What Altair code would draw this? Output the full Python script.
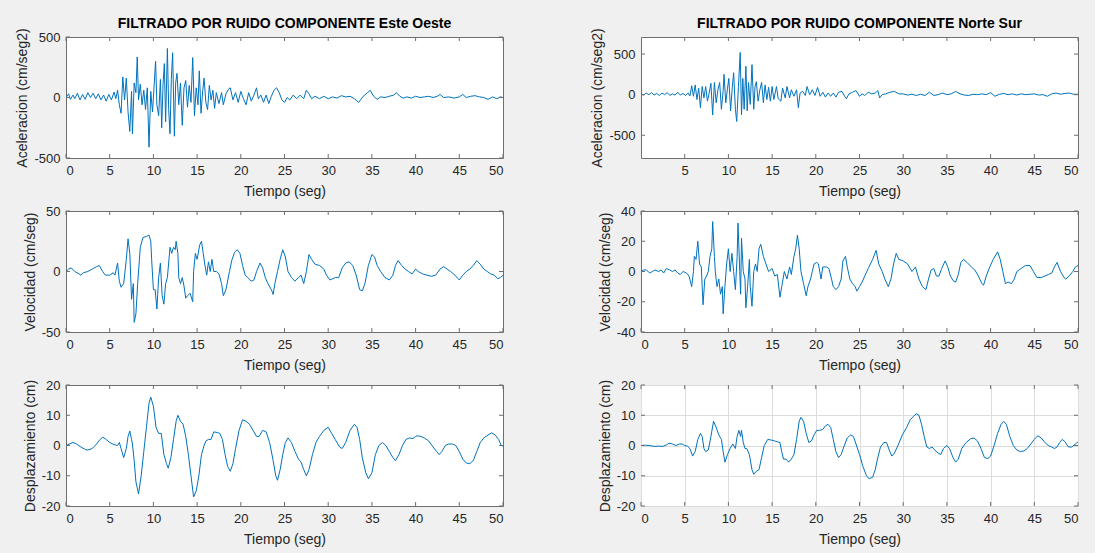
import altair as alt
import pandas as pd

# ---------------- data ----------------
T_ACC_EW = [0.0,0.3,0.5,0.8,1.0,1.3,1.6,1.9,2.2,2.5,2.8,3.1,3.4,3.7,4.0,4.3,4.6,4.9,5.2,5.5,5.7,5.9,6.1,6.3,6.5,6.7,6.9,7.1,7.3,7.5,7.6,7.8,8.0,8.15,8.3,8.5,8.7,8.9,9.1,9.3,9.5,9.7,9.9,10.1,10.25,10.4,10.6,10.8,10.95,11.1,11.25,11.4,11.6,11.75,11.9,12.05,12.2,12.4,12.55,12.7,12.9,13.1,13.3,13.5,13.7,13.9,14.1,14.3,14.5,14.7,14.9,15.1,15.25,15.45,15.65,15.8,16.0,16.2,16.4,16.6,16.8,17.0,17.2,17.5,17.8,18.0,18.3,18.6,18.8,19.1,19.4,19.7,20.0,20.3,20.6,20.9,21.2,21.5,21.8,22.0,22.3,22.6,22.9,23.2,23.5,23.8,24.1,24.4,24.7,25.0,25.3,25.6,26.0,26.4,26.8,27.2,27.5,27.8,28.1,28.5,29.0,29.5,30.0,30.5,31.0,31.5,32.0,32.5,33.0,33.5,34.0,34.5,34.8,35.2,35.6,36.0,36.5,37.0,37.5,37.8,38.2,38.6,39.0,39.5,40.0,40.5,41.0,41.5,42.0,42.5,42.8,43.2,43.8,44.4,45.0,45.4,45.8,46.3,46.8,47.3,47.8,48.3,48.8,49.3,49.7,50.0]
A_EW = [0,30,-15,20,-10,35,-20,25,-15,40,0,35,-10,30,-20,20,-30,25,-20,45,-10,60,-60,-130,170,-20,160,-120,-280,50,-300,120,40,335,-20,110,-60,60,-100,80,-410,50,-120,120,300,-60,-150,150,-250,100,280,-200,405,-100,-300,150,370,-320,120,200,-60,120,-230,80,140,-80,100,-40,330,-150,80,-60,220,-130,60,160,-40,-100,100,-20,60,-90,40,-50,40,-60,30,70,80,-20,40,-40,50,-10,-60,40,-30,20,80,-10,20,-40,20,-50,10,60,80,40,-20,-40,0,-20,20,-10,20,-10,60,30,-10,10,-10,10,-10,5,-5,15,5,10,-10,-40,10,40,60,10,-15,5,0,10,20,40,10,-5,5,-5,10,0,5,10,0,10,25,0,5,-5,5,25,0,10,15,5,0,-15,5,-10,5,0]

T_ACC_NS = [0.0,0.3,0.6,0.9,1.2,1.5,1.8,2.1,2.4,2.7,3.0,3.3,3.6,3.9,4.2,4.5,4.8,5.1,5.4,5.6,5.8,6.0,6.2,6.4,6.6,6.8,7.0,7.2,7.4,7.6,7.8,8.0,8.2,8.4,8.6,8.8,9.0,9.2,9.4,9.5,9.7,9.9,10.05,10.25,10.45,10.6,10.8,10.95,11.15,11.35,11.5,11.65,11.8,12.0,12.15,12.3,12.5,12.7,12.9,13.05,13.2,13.4,13.6,13.8,14.0,14.2,14.4,14.6,14.8,15.0,15.2,15.5,15.7,16.0,16.2,16.5,16.7,17.0,17.2,17.5,17.8,18.0,18.2,18.5,18.8,19.0,19.3,19.6,19.9,20.2,20.5,20.8,21.1,21.4,21.7,22.0,22.3,22.6,23.0,23.3,23.5,23.8,24.2,24.6,25.0,25.3,25.6,26.0,26.4,26.8,27.1,27.3,27.6,28.0,28.5,29.0,29.5,30.0,30.5,31.0,31.5,32.0,32.5,33.0,33.5,34.0,34.5,35.0,35.5,36.0,36.5,37.0,37.5,38.0,38.5,39.0,39.5,40.0,40.5,41.0,41.5,42.0,42.5,43.0,43.5,44.0,44.5,45.0,45.5,46.0,46.5,47.0,47.5,48.0,48.5,49.0,49.5,50.0]
A_NS = [10,-5,20,0,25,-5,15,-10,20,0,25,-10,10,-5,30,-5,15,-10,20,-15,110,-20,120,-60,80,-160,100,-40,100,-80,20,140,-250,150,-100,60,150,-180,50,250,-100,80,200,-200,100,270,-180,-330,100,520,-250,200,-180,350,-200,150,-120,370,-180,100,160,-80,60,150,-100,120,-60,90,-80,100,-60,100,-50,-80,80,-40,100,-40,60,-20,60,-160,20,40,-10,100,0,60,-10,90,-20,30,-30,20,-20,20,-30,30,40,-20,-50,10,30,50,-20,10,-10,30,10,20,50,-40,0,10,30,40,10,10,-5,5,-10,5,-10,30,-10,0,20,0,10,40,10,-5,-10,5,0,10,0,25,-20,5,15,0,10,-5,10,0,5,10,-5,0,-20,10,20,5,15,20,5,5]

T_VEL_EW = [0.0,0.3,0.6,1.0,1.5,1.7,2.0,2.5,3.0,3.5,3.8,4.2,4.5,5.0,5.4,5.6,5.9,6.1,6.3,6.6,6.9,7.1,7.3,7.5,7.7,7.8,8.0,8.2,8.5,8.8,9.2,9.5,9.7,9.8,10.0,10.2,10.4,10.6,10.8,11.0,11.2,11.4,11.6,11.9,12.1,12.3,12.5,12.6,12.8,12.9,13.1,13.3,13.5,13.7,13.9,14.2,14.5,14.6,14.8,15.0,15.3,15.5,15.7,15.9,16.1,16.3,16.5,16.7,16.9,17.2,17.5,17.8,18.0,18.3,18.7,19.0,19.3,19.6,19.9,20.2,20.5,20.8,21.2,21.5,21.8,22.2,22.5,22.8,23.1,23.5,23.7,23.9,24.2,24.5,24.8,25.1,25.4,25.8,26.2,26.6,26.9,27.2,27.5,27.8,28.1,28.5,29.0,29.5,29.8,30.2,30.8,31.2,31.6,32.0,32.4,32.8,33.2,33.6,33.9,34.2,34.6,35.0,35.3,35.6,36.0,36.5,37.0,37.4,37.7,38.0,38.4,38.8,39.2,39.6,40.0,40.3,40.8,41.3,41.8,42.3,42.8,43.2,43.6,44.0,44.5,45.0,45.4,45.8,46.2,46.6,47.0,47.4,47.8,48.2,48.6,49.0,49.4,49.7,50.0]
V_EW = [0,2,3,0,-2,-3,-1,0,2,4,5,0,-3,-3,-1,-3,7,-8,-13,-10,10,27,15,-23,-10,-42,-35,-10,20,28,29,30,25,10,-15,-15,-31,-5,7,-20,-27,-10,-5,20,15,20,18,25,15,-5,-10,-5,-12,-22,-20,-18,-25,0,15,10,22,25,15,5,-3,8,0,10,0,0,-2,-10,-20,-15,0,10,16,18,15,5,-3,-5,-8,-7,0,7,3,-5,-10,-15,-19,-10,0,10,18,12,0,-5,-8,-5,-3,-10,0,14,10,6,5,2,-3,-7,-5,-5,3,7,8,5,-3,-15,-16,-10,5,14,12,5,0,-5,-7,-3,5,9,5,2,0,-2,2,0,-2,-3,-4,-3,2,4,2,0,-3,-7,-3,0,2,5,9,6,2,0,-2,-3,-6,-5,-3]

T_VEL_NS = [0.0,0.3,0.6,1.0,1.3,1.6,2.0,2.3,2.6,2.9,3.3,3.6,3.9,4.2,4.5,4.8,5.2,5.5,5.8,6.0,6.1,6.3,6.5,6.7,6.9,7.0,7.1,7.3,7.5,7.7,7.9,8.1,8.2,8.4,8.5,8.7,8.9,9.1,9.3,9.4,9.6,9.8,10.0,10.2,10.4,10.6,10.8,11.0,11.1,11.3,11.4,11.5,11.7,11.9,12.0,12.2,12.4,12.5,12.7,12.9,13.1,13.3,13.5,13.7,14.0,14.3,14.6,15.0,15.3,15.6,15.9,16.1,16.4,16.7,17.0,17.2,17.5,17.7,17.9,18.1,18.3,18.6,18.9,19.1,19.4,19.6,19.8,20.1,20.3,20.6,20.8,21.2,21.5,21.8,22.0,22.3,22.6,22.9,23.1,23.4,23.6,23.9,24.2,24.5,24.7,25.0,25.3,25.6,26.0,26.5,26.9,27.2,27.6,27.9,28.3,28.6,28.9,29.2,29.5,30.0,30.5,31.0,31.4,31.8,32.2,32.6,32.9,33.2,33.5,33.8,34.1,34.4,34.8,35.1,35.4,35.7,36.0,36.3,36.6,36.9,37.3,37.8,38.2,38.6,39.0,39.2,39.5,39.9,40.3,40.8,41.1,41.4,41.7,42.0,42.4,42.7,43.0,43.5,44.0,44.5,44.9,45.3,45.8,46.2,46.6,47.0,47.3,47.6,48.0,48.4,48.6,49.0,49.4,49.7,50.0]
V_NS = [0,1,1,-1,0,1,0,1,-1,2,1,0,1,-1,-2,0,-1,-3,-10,0,10,8,20,5,3,-10,-22,-5,-3,0,10,15,33,10,0,-10,-5,-15,-10,-28,-10,5,15,0,12,0,-12,10,32,0,-15,22,0,-5,-24,-10,8,-10,-23,0,5,0,15,18,10,5,0,2,-3,-2,-17,-10,0,-5,3,-2,10,15,24,15,0,-8,-16,-10,-5,0,5,6,5,-5,3,3,2,-5,-10,-12,-10,-5,7,10,3,-5,-8,-10,-13,-10,-7,-3,2,8,14,5,0,-5,-10,-5,5,12,8,7,5,0,3,-5,-10,-12,-5,1,2,-3,-3,2,7,3,-3,-6,-7,-2,6,8,6,3,1,-3,-8,-9,-3,3,8,13,8,0,-8,-7,-8,-5,0,2,4,4,0,-4,-4,-3,-2,-1,3,6,0,-4,-5,-3,0,3,4]

T_DIS_EW = [0.0,0.4,0.8,1.2,1.7,2.2,2.5,3.0,3.5,3.9,4.2,4.5,5.0,5.5,5.9,6.1,6.3,6.6,6.9,7.1,7.3,7.5,7.6,7.8,8.0,8.3,8.6,8.9,9.2,9.5,9.7,10.0,10.3,10.6,10.9,11.2,11.5,11.7,12.0,12.3,12.6,12.8,13.1,13.4,13.7,14.0,14.3,14.6,14.9,15.2,15.5,15.8,16.0,16.3,16.6,16.9,17.3,17.6,17.9,18.2,18.5,18.8,19.1,19.4,19.8,20.2,20.6,21.0,21.4,21.8,22.1,22.5,22.9,23.3,23.7,24.0,24.2,24.5,24.8,25.1,25.4,25.8,26.2,26.6,26.9,27.2,27.5,27.8,28.2,28.6,29.0,29.5,30.0,30.4,30.8,31.3,31.6,32.0,32.5,33.0,33.3,33.6,33.9,34.3,34.6,35.0,35.4,35.8,36.2,36.6,37.0,37.4,37.7,38.1,38.5,38.9,39.3,39.7,40.0,40.2,40.6,41.0,41.5,42.0,42.4,42.7,43.0,43.4,43.8,44.2,44.6,45.0,45.4,45.8,46.2,46.6,47.0,47.4,47.8,48.3,48.7,49.1,49.5,49.8,50.0]
D_EW = [0,0.5,1,0.5,-0.5,-1.3,-1.5,-1,0.5,2,2.7,2.2,1,0.3,0,1,-1,-4,-1,3,4.8,2,0.5,-5,-12,-16,-10,-2,6,14,16,13,6,4,4,-3,-6,-7.5,-4,2,8,10,8,7,3,-3,-10,-17,-15,-10,-3,0,1.5,2,2,4.5,4.3,4,2,-3,-7,-8.5,-6,-1,5,8.5,8,7,5,3,3,5,4.5,1,-5,-10,-11.5,-8,-3,1,2.5,1,-2,-4.5,-5.5,-8,-10,-8,-3,1,3,5,6,4,2,-0.5,-1,1,5,7,6,2,-4,-9,-11,-9,-3,0,1,0,-2,-4,-5,-3,0,2,2.5,2.3,3,3.2,3,2.5,1.5,-0.5,-2,-3,-2,0,0.5,0.5,0,-2,-4.5,-5.8,-6,-5,-2,1,2.5,3.5,4.2,3.5,2,0,-0.2]

T_DIS_NS = [0.0,0.5,1.0,1.5,2.0,2.5,3.0,3.2,3.6,4.0,4.4,4.7,5.0,5.3,5.6,5.9,6.2,6.5,6.8,7.0,7.2,7.4,7.7,8.0,8.3,8.6,8.9,9.2,9.4,9.6,9.9,10.2,10.5,10.8,11.0,11.2,11.4,11.5,11.7,11.9,12.1,12.4,12.7,12.9,13.2,13.5,13.8,14.1,14.5,14.9,15.3,15.6,15.9,16.1,16.3,16.6,16.9,17.2,17.5,17.8,18.1,18.3,18.6,18.9,19.2,19.5,19.8,20.1,20.4,20.8,21.1,21.4,21.7,22.0,22.3,22.6,22.9,23.2,23.6,24.0,24.3,24.6,25.0,25.4,25.8,26.1,26.5,26.8,27.1,27.4,27.8,28.1,28.4,28.7,29.0,29.4,29.9,30.4,30.8,31.2,31.5,31.8,32.1,32.4,32.7,33.0,33.3,33.6,34.0,34.3,34.6,35.0,35.3,35.7,36.0,36.3,36.7,37.2,37.7,38.1,38.5,38.9,39.3,39.7,40.0,40.4,40.8,41.2,41.5,41.8,42.2,42.6,43.0,43.4,43.8,44.2,44.6,45.0,45.4,45.8,46.2,46.6,47.0,47.3,47.6,47.9,48.2,48.5,48.9,49.3,49.7,50.0]
D_NS = [0,0.1,0,-0.3,-0.2,-0.3,0.3,0.8,0.5,0,0.5,0.5,0,-0.2,-1,-3.5,-2,2,4,3,-1,-2,-1.5,3,8,6,3.5,2,-2,-5.5,-3,-1,0.5,-1,3,5,3,5,1,-1,-1,-3,-8,-9.5,-8.5,-8,-4,0,2,1.8,1.5,1.2,1,-2,-4.5,-4.5,-5.5,-4.5,-3,2,8,9.3,8,4,1,1.5,3.5,5,5,5.3,6.5,7,6,2,-2,-4,-3,-0.5,2.5,3.5,3,0.5,-3,-7,-10,-11,-10.5,-8,-4,-0.5,1,1,-1.5,-3.5,-2.5,0,3.5,6,8.5,9.7,10.5,10,7,3,-0.5,-1,-0.5,-1.5,-2.5,-3,-1,0,-1,-4,-5.5,-4.5,-1,1,2.2,2.5,1.5,-1,-4,-4.3,-3.5,0,4,7,8,7,3,0,-1.5,-2,-1.8,-1,0.5,2,3.2,2.5,1,0,-0.5,-1,-0.5,1,2,1.3,-0.5,-0.5,0.5,1.2]

X_TICKS_FULL = [0, 5, 10, 15, 20, 25, 30, 35, 40, 45, 50]
X_TICKS_NO0 = [5, 10, 15, 20, 25, 30, 35, 40, 45, 50]
Y_TICKS_ACC_EW = [-500, 0, 500]
Y_TICKS_ACC_NS = [-500, 0, 500]
Y_TICKS_VEL_EW = [-50, 0, 50]
Y_TICKS_VEL_NS = [-40, -20, 0, 20, 40]
Y_TICKS_DIS = [-20, -10, 0, 10, 20]

TITLE_EW = "FILTRADO POR RUIDO COMPONENTE Este Oeste"
TITLE_NS = "FILTRADO POR RUIDO COMPONENTE Norte Sur"
X_TITLE = "Tiempo (seg)"

# ---------------- styling ----------------
W, H = 437, 121
TICK_LEN = 4
LINE_COLOR = "#0072BD"
BOX_COLOR = "#6e6e6e"
FONT = "Liberation Sans"
LABEL_EXPR = "'' + datum.value"


def panel(t, v, xdom, xticks, ydom, yticks, ytitle, title=None, grid=False):
    df = pd.DataFrame({"t": t, "v": v})
    xs = alt.Scale(domain=xdom, nice=False, zero=False)
    ys = alt.Scale(domain=ydom, nice=False, zero=False)
    xax = alt.Axis(values=xticks, title=X_TITLE, grid=grid, labelExpr=LABEL_EXPR)
    yax = alt.Axis(values=yticks, title=ytitle, grid=grid, labelExpr=LABEL_EXPR)
    line = alt.Chart(df).mark_line(color=LINE_COLOR, strokeWidth=1, clip=True).encode(
        x=alt.X("t:Q", scale=xs, axis=xax),
        y=alt.Y("v:Q", scale=ys, axis=yax),
    )
    xt = pd.DataFrame({"t": xticks})
    yt = pd.DataFrame({"v": yticks})
    tb = alt.Chart(xt).mark_rule(color=BOX_COLOR, strokeWidth=1).encode(
        x=alt.X("t:Q", scale=xs, axis=xax), y=alt.value(0), y2=alt.value(TICK_LEN))
    bb = alt.Chart(xt).mark_rule(color=BOX_COLOR, strokeWidth=1).encode(
        x=alt.X("t:Q", scale=xs, axis=xax), y=alt.value(H), y2=alt.value(H - TICK_LEN))
    lb = alt.Chart(yt).mark_rule(color=BOX_COLOR, strokeWidth=1).encode(
        y=alt.Y("v:Q", scale=ys, axis=yax), x=alt.value(0), x2=alt.value(TICK_LEN))
    rb = alt.Chart(yt).mark_rule(color=BOX_COLOR, strokeWidth=1).encode(
        y=alt.Y("v:Q", scale=ys, axis=yax), x=alt.value(W), x2=alt.value(W - TICK_LEN))
    props = dict(width=W, height=H)
    if title:
        props["title"] = alt.TitleParams(text=title, fontSize=14, fontWeight="bold",
                                         font=FONT, color="#000000", anchor="middle",
                                         frame="group", offset=-3)
    return alt.layer(line, tb, bb, lb, rb).properties(**props)


p1 = panel(T_ACC_EW, A_EW, [0, 50], X_TICKS_FULL, [-500, 500], Y_TICKS_ACC_EW,
           "Aceleracion (cm/seg2)", title=TITLE_EW)
p2 = panel(T_ACC_NS, A_NS, [0, 50], X_TICKS_NO0, [-780, 710], Y_TICKS_ACC_NS,
           "Aceleracion (cm/seg2)", title=TITLE_NS)
p3 = panel(T_VEL_EW, V_EW, [0, 50], X_TICKS_FULL, [-50, 50], Y_TICKS_VEL_EW,
           "Velocidad (cm/seg)")
p4 = panel(T_VEL_NS, V_NS, [0, 50], X_TICKS_FULL, [-40, 40], Y_TICKS_VEL_NS,
           "Velocidad (cm/seg)")
p5 = panel(T_DIS_EW, D_EW, [0, 50], X_TICKS_FULL, [-20, 20], Y_TICKS_DIS,
           "Desplazamiento (cm)")
p6 = panel(T_DIS_NS, D_NS, [0, 50], X_TICKS_FULL, [-20, 20], Y_TICKS_DIS,
           "Desplazamiento (cm)", grid=True)

chart = alt.concat(
    p1, p2, p3, p4, p5, p6, columns=2,
    spacing=alt.RowColnumber(row=53, column=138), bounds="flush",
).properties(
    background="#f0f0f0",
    padding={"left": 15, "top": 16, "right": 16, "bottom": 6},
).configure_view(
    fill="white", stroke=BOX_COLOR, strokeWidth=1
).configure_axis(
    labelFont=FONT, labelFontSize=13, labelColor="#262626",
    titleFont=FONT, titleFontSize=14, titleFontWeight="normal", titleColor="#262626",
    ticks=False, domain=False, gridColor="#dcdcdc", gridWidth=1,
).configure_axisX(
    labelPadding=6, titlePadding=7,
).configure_axisY(
    labelPadding=6, titlePadding=4,
)

chart.save("out.html", embed_options={"renderer": "svg", "actions": False})
